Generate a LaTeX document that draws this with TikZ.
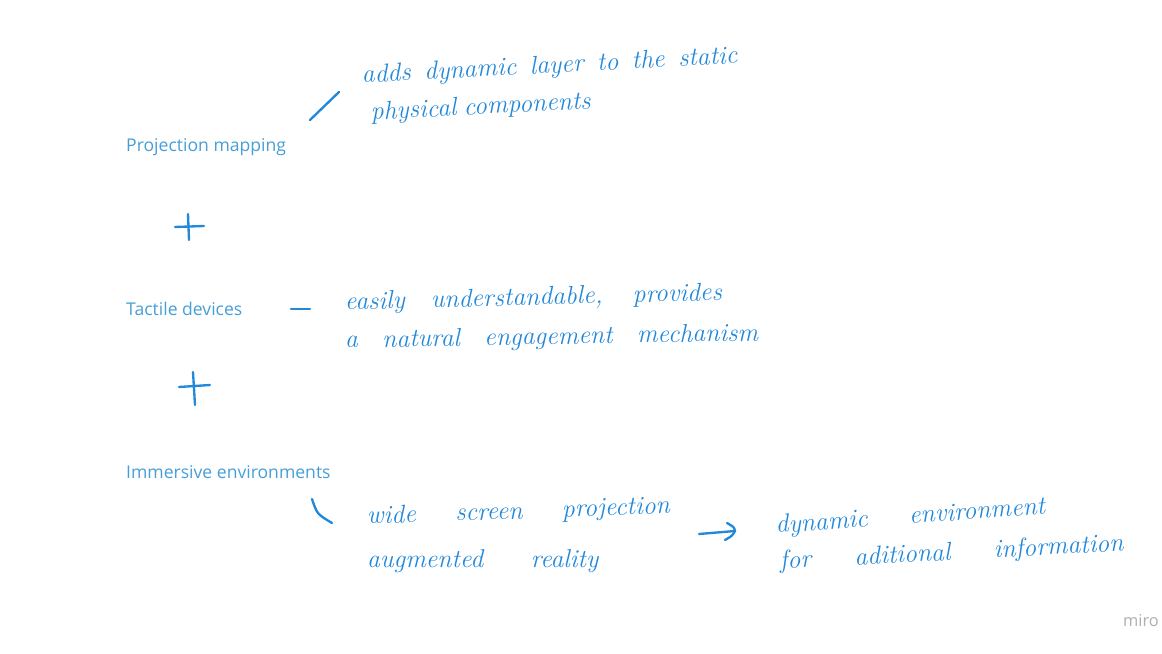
\documentclass[tikz,border=0pt]{standalone}
\usepackage{fontspec}
\usepackage{tikz}
\usepackage{xcolor}
\newfontfamily\labelfont{Open Sans}
\definecolor{label-blue}{RGB}{70,158,214}
\definecolor{ink-blue}{RGB}{34,136,218}
\definecolor{miro-grey}{RGB}{175,175,175}
\newcommand{\handline}[2]{\makebox[#1cm][s]{#2}}
\tikzset{
    typed-label/.style = {text=label-blue, font=\labelfont\fontsize{15}{17}\selectfont, inner sep=0pt, anchor=base west},
    hand-note/.style = {text=ink-blue, font=\itshape\fontsize{22}{25}\selectfont, inner sep=0pt, anchor=base west},
    ink/.style = {draw=ink-blue, line width=2pt, line cap=round, line join=round},
}

\begin{document}
\begin{tikzpicture}[x=0.03cm, y=-0.03cm]
\useasboundingbox (0,0) rectangle (1162,654);

\node[typed-label] (projection) at (126,152) {Projection mapping};
\node[typed-label] (tactile) at (126,316) {Tactile devices};
\node[typed-label] (immersive) at (126,479) {Immersive environments};

\node[hand-note, rotate=3] (proj-a) at (362,83) {\handline{11.28}{adds dynamic layer to the static}};
\node[hand-note, rotate=3] (proj-b) at (371,120) {\handline{6.6}{physical components}};
\node[hand-note, rotate=1.5] (tact-a) at (345,310) {\handline{11.31}{easily understandable, provides}};
\node[hand-note, rotate=1] (tact-b) at (345,348) {\handline{12.39}{a natural engagement mechanism}};
\node[hand-note, rotate=2] (imm-a) at (367,524) {\handline{9.09}{wide screen projection}};
\node[hand-note] (imm-b) at (367,568) {\handline{6.93}{augmented reality}};
\node[hand-note, rotate=4] (dyn-a) at (776,533) {\handline{8.1}{dynamic environment}};
\node[hand-note, rotate=3] (dyn-b) at (780,569) {\handline{10.32}{for aditional information}};

\draw[ink] (310,120) -- (339,92);
\draw[ink] (175,227) -- (204,226) (188,214) -- (189,240);
\draw[ink] (291,309) -- (310,309);
\draw[ink] (179,387) -- (210,385) (193,372) -- (195,405);
\draw[ink] (312,499) .. controls (317,514) .. (332,523);

\coordinate (arrow-tail) at (699,534);
\coordinate (arrow-head) at (735,531);
\draw[ink] (arrow-tail) -- (arrow-head);
\draw[ink] (727,523) .. controls (734,527) .. (arrow-head) .. controls (732,536) .. (725,540);

\node[text=miro-grey, font=\labelfont\fontsize{14}{16}\selectfont, inner sep=0pt] (miro) at (1141,621) {miro};
\end{tikzpicture}
\end{document}
